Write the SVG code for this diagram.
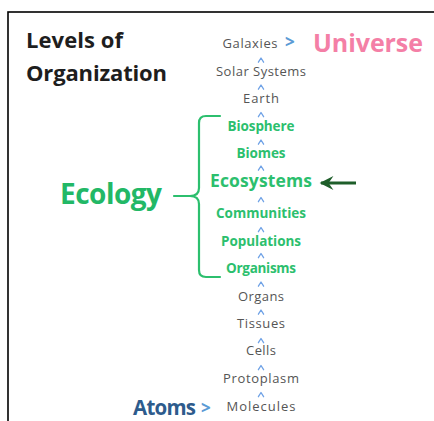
<svg xmlns="http://www.w3.org/2000/svg" width="434" height="421" viewBox="0 0 434 421">
<style>
text{font-family:"Open Sans","Noto Sans",sans-serif;}
.g{fill:#555555;font-size:13px;text-anchor:middle;}
.e{fill:#2cbf6e;font-size:13.5px;font-weight:700;text-anchor:middle;}
.c{fill:none;stroke:#6fa2e6;stroke-width:1.3;stroke-linecap:round;stroke-linejoin:round;}
.t{fill:#1e1e1e;font-size:22px;font-weight:700;}
</style>
<defs>
<marker id="ah" viewBox="0 0 10 10" refX="9" refY="5" markerWidth="5.5" markerHeight="4.6" orient="auto">
<path d="M10,5 L0,0 L3.5,5 L0,10 Z" fill="#1e5e2a"/>
</marker>
<path id="caret" class="c" d="M-2.6 2.2 L0 -2 L2.6 2.2"/>
</defs>
<rect width="434" height="421" fill="#fff"/>
<rect x="8" y="12" width="440" height="420" fill="none" stroke="#000" stroke-width="1.6"/>
<g id="title">
<text class="t" x="26" y="48" textLength="97">Levels of</text>
<text class="t" x="26" y="81" textLength="141">Organization</text>
</g>
<g id="universe">
<text x="313" y="52" fill="#f47fa6" font-size="25" font-weight="700" textLength="110">Universe</text>
<text x="285" y="48" fill="#5b9bd5" font-size="17" font-weight="700">&gt;</text>
</g>
<g id="galaxies"><text class="g" x="250" y="48" textLength="55">Galaxies</text></g>
<g id="solar"><text class="g" x="261" y="76" textLength="90">Solar Systems</text></g>
<g id="earth"><text class="g" x="261" y="103" textLength="36">Earth</text></g>
<g id="biosphere"><text class="e" x="261" y="131" textLength="67">Biosphere</text></g>
<g id="biomes"><text class="e" x="261" y="158" textLength="49">Biomes</text></g>
<g id="ecosystems"><text x="261" y="187" fill="#2cbf6e" font-size="17.5" font-weight="700" text-anchor="middle" textLength="102">Ecosystems</text></g>
<g id="communities"><text class="e" x="261" y="218" textLength="90">Communities</text></g>
<g id="populations"><text class="e" x="261" y="246" textLength="80">Populations</text></g>
<g id="organisms"><text class="e" x="261" y="273" textLength="70">Organisms</text></g>
<g id="organs"><text class="g" x="261" y="301" textLength="46">Organs</text></g>
<g id="tissues"><text class="g" x="261" y="328" textLength="48">Tissues</text></g>
<g id="cells"><text class="g" x="261" y="355" textLength="30">Cells</text></g>
<g id="protoplasm"><text class="g" x="261" y="383" textLength="76">Protoplasm</text></g>
<g id="molecules"><text class="g" x="261" y="411" textLength="69">Molecules</text></g>
<g id="atoms">
<text x="133" y="415" fill="#2d5b8c" font-size="20.5" font-weight="700" textLength="63">Atoms</text>
<text x="201" y="414" fill="#5b9bd5" font-size="17" font-weight="700">&gt;</text>
</g>
<g id="ecology">
<text x="60" y="204" fill="#22b866" font-size="28" font-weight="700" textLength="102">Ecology</text>
</g>
<g id="connectors">
<use href="#caret" x="261" y="60"/>
<use href="#caret" x="261" y="87"/>
<use href="#caret" x="261" y="114.5"/>
<use href="#caret" x="261" y="142"/>
<use href="#caret" x="261" y="168"/>
<use href="#caret" x="261" y="199.5"/>
<use href="#caret" x="261" y="229.5"/>
<use href="#caret" x="261" y="255.5"/>
<use href="#caret" x="261" y="284"/>
<use href="#caret" x="261" y="312"/>
<use href="#caret" x="261" y="340.5"/>
<use href="#caret" x="261" y="367.5"/>
<use href="#caret" x="261" y="394.5"/>
<path d="M220 116 L206 116 Q199 116 199 123 L199 188 Q199 196 190 196 L174 196 M190 196 Q199 196 199 204 L199 270 Q199 277 206 277 L220 277" fill="none" stroke="#2cbf6e" stroke-width="2.2" stroke-linecap="round"/>
<line x1="356" y1="183" x2="321" y2="183" stroke="#1e5e2a" stroke-width="3" marker-end="url(#ah)"/>
</g>
</svg>
